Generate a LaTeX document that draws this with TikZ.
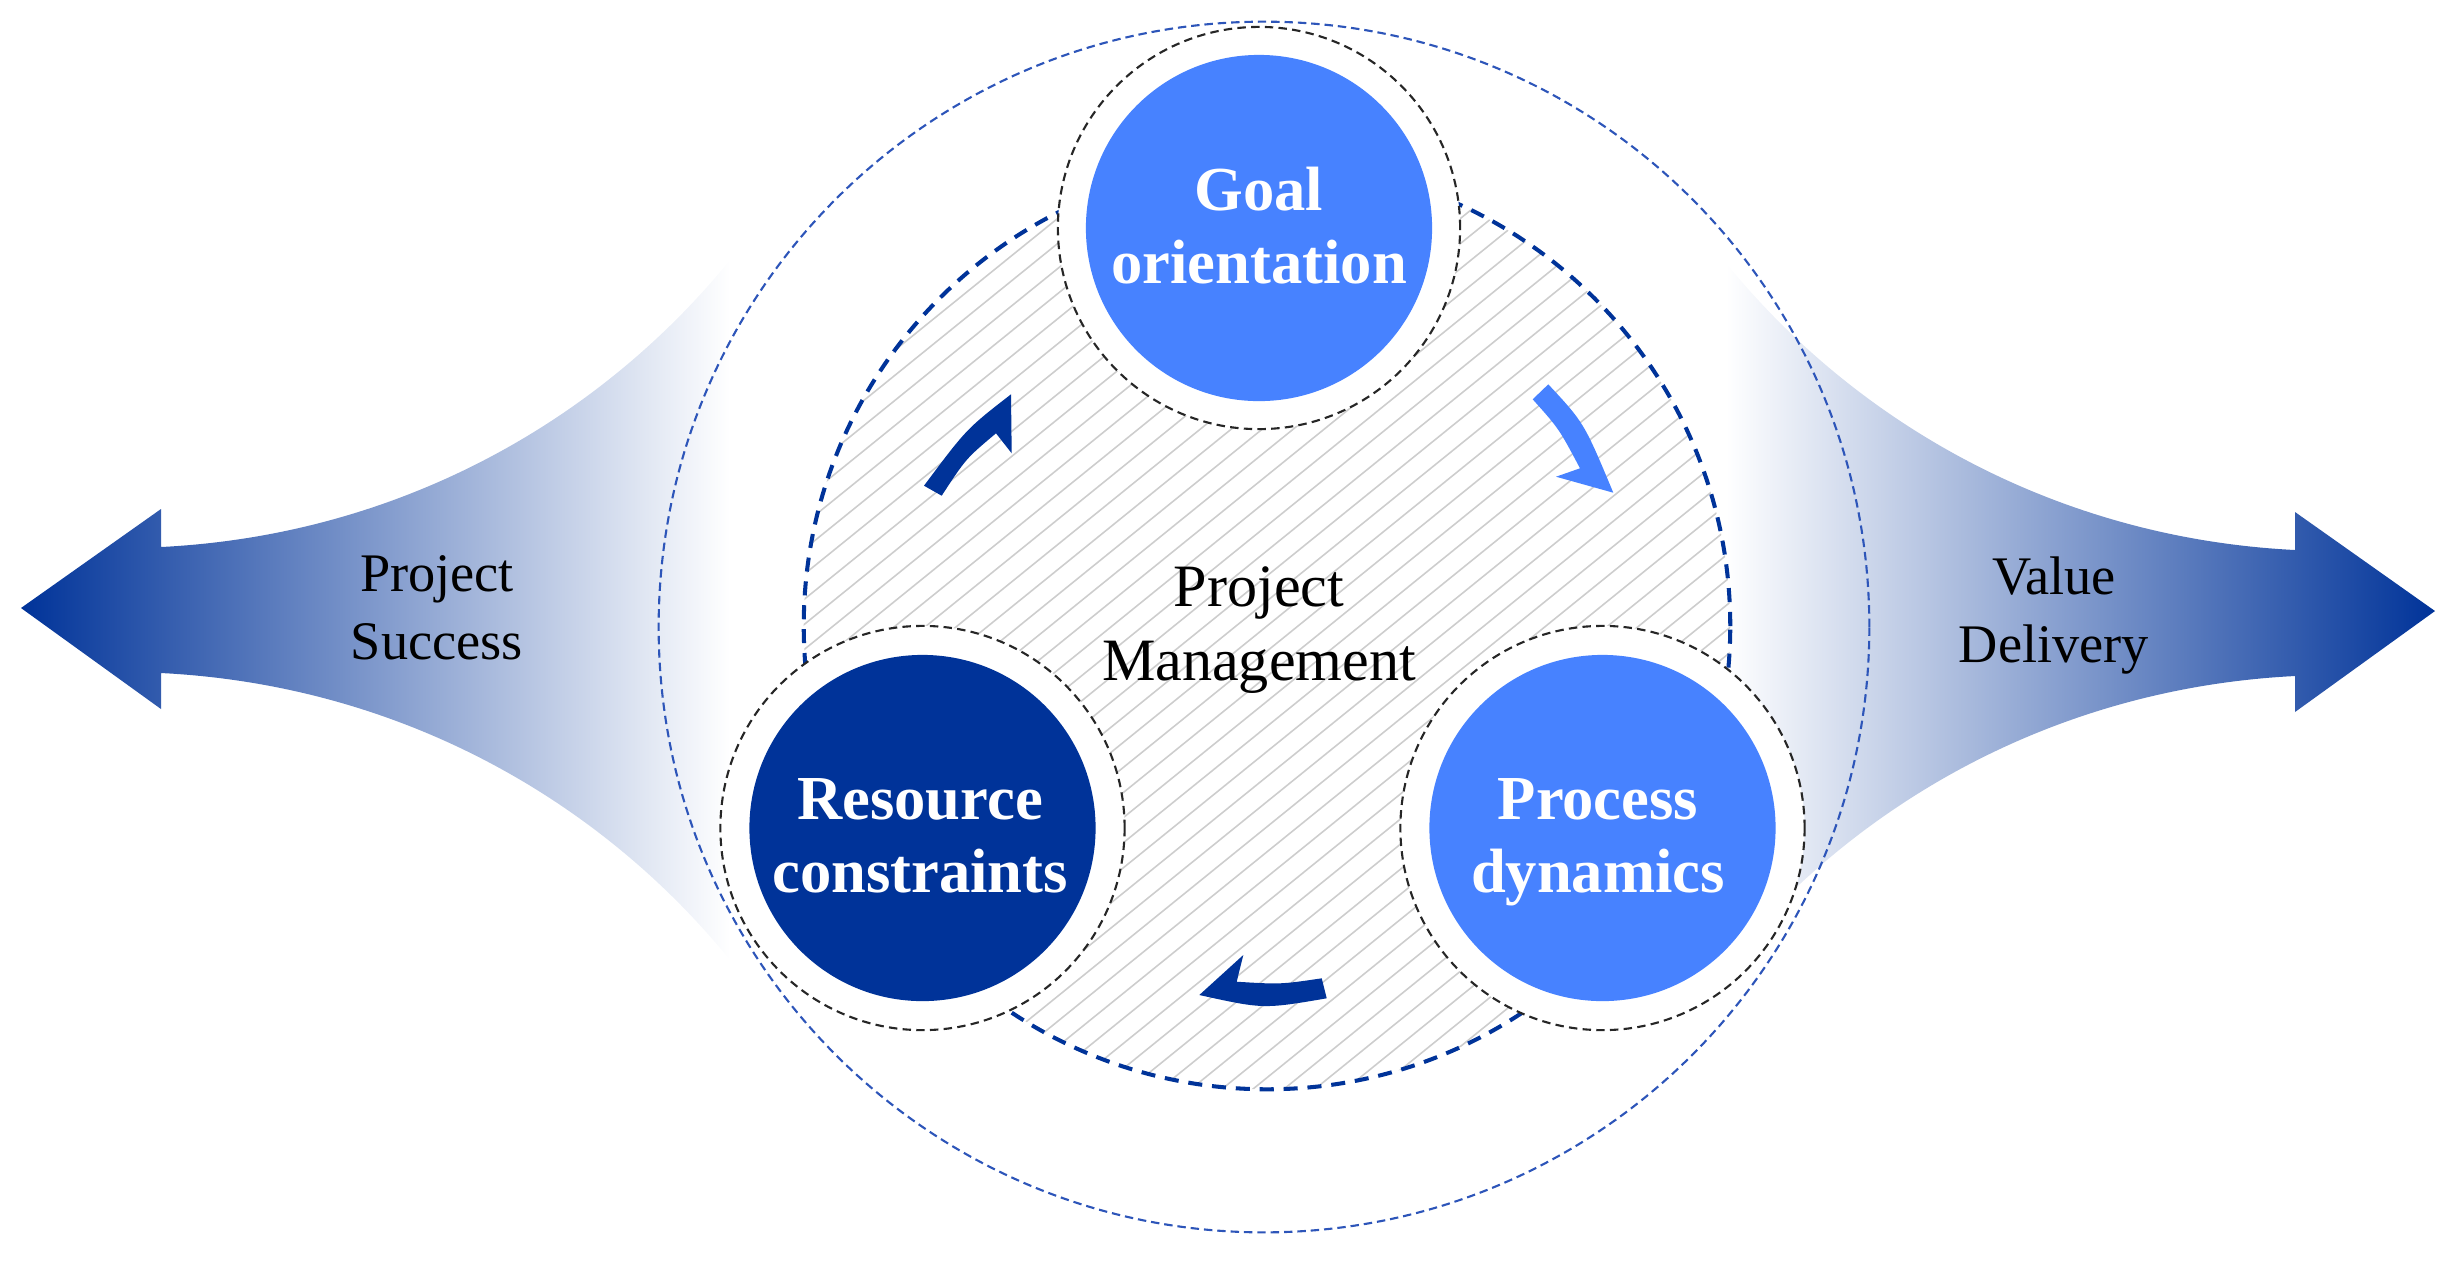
\documentclass[tikz,border=0pt]{standalone}
\usepackage{fontspec}
\setmainfont{Liberation Serif}
\usetikzlibrary{calc}
\definecolor{navy}{RGB}{0,51,153}
\definecolor{lblue}{RGB}{71,130,255}
\definecolor{midblue}{RGB}{45,85,185}
\definecolor{hatchgray}{RGB}{205,205,205}
\begin{document}
\begin{tikzpicture}[x=0.01cm,y=-0.01cm,
  ring/.style={draw=black!85, line width=0.6pt, dash pattern=on 2.4pt off 1.5pt, fill=white},
  disc/.style={circle, inner sep=0pt, minimum size=3.46cm},
  boldlbl/.style={anchor=base, inner sep=0pt, text=white, font=\fontsize{17.8}{20.86}\selectfont\bfseries},
  sidelbl/.style={anchor=base, inner sep=0pt, text=black, font=\fontsize{15.45}{19.35}\selectfont},
  midlbl/.style={anchor=base, inner sep=0pt, text=black, font=\fontsize{17.1}{20.86}\selectfont},
  hatchline/.style={draw=hatchgray, line width=0.45pt},
  cyclearrow/.style={draw=none}
]
\useasboundingbox (0,0) rectangle (2459,1262);

% wings
\shade[left color=navy, right color=white] (21,608) -- (161,509) -- (161,547)
  .. controls (400,535) and (600,420) .. (730,260) -- (730,960)
  .. controls (600,800) and (400,685) .. (161,673) -- (161,709) -- cycle;
\shade[left color=white, right color=navy] (2435,611) -- (2295,512) -- (2295,550)
  .. controls (2056,538) and (1856,423) .. (1726,263) -- (1726,963)
  .. controls (1856,803) and (2056,688) .. (2295,676) -- (2295,712) -- cycle;

% hatching inside inner circle
\coordinate (ic) at (1267,626);
\begin{scope}
  \clip (ic) circle [radius=4.63cm];
  \begin{scope}[shift={(ic)}, rotate=39]
    \foreach \k in {-26,...,26} \draw[hatchline] (-520,\k*19.5) -- (520,\k*19.5);
  \end{scope}
\end{scope}
\draw[navy, line width=1.15pt, dash pattern=on 4pt off 2.8pt] (ic) circle [radius=4.63cm];

% node rings and discs
\draw[ring] (1259,228) circle [radius=2.01cm];
\draw[ring] (922.5,828) circle [radius=2.02cm];
\draw[ring] (1602.5,828) circle [radius=2.02cm];
\node[disc, fill=lblue] (goal) at (1259,228) {};
\node[disc, fill=navy] (res) at (922.5,828) {};
\node[disc, fill=lblue] (proc) at (1602.5,828) {};

\node[boldlbl] (goalt) at (1259,210) {\begin{tabular}[t]{@{}c@{}}Goal\\orientation\end{tabular}};
\node[boldlbl] (rest) at (920,819) {\begin{tabular}[t]{@{}c@{}}Resource\\constraints\end{tabular}};
\node[boldlbl] (proct) at (1598,819) {\begin{tabular}[t]{@{}c@{}}Process\\dynamics\end{tabular}};

\node[midlbl] (pm) at (1259,606.7) {\begin{tabular}[t]{@{}c@{}}Project\\Management\end{tabular}};
\node[sidelbl] (ps) at (437,591) {\begin{tabular}[t]{@{}c@{}}Project\\Success\end{tabular}};
\node[sidelbl] (vd) at (2054,594) {\begin{tabular}[t]{@{}c@{}}Value\\Delivery\end{tabular}};

% cycle arrows
\fill[navy] (924,485.7) -- (941.7,495.7) .. controls (966.0,458.5) .. (996,433.3)
  -- (1011.7,453.3) -- (1011,394.3) .. controls (966.4,428.9) .. (924,485.7) -- cycle;
\fill[lblue] (1548.3,384.3) -- (1532.7,399.3) .. controls (1559.0,428.7) .. (1580,468.3)
  -- (1556,476.7) -- (1613.3,492.7) .. controls (1584.1,422.8) .. (1548.3,384.3) -- cycle;
\fill[navy] (1326.7,998.3) -- (1321.7,978.3) .. controls (1280.3,984.4) .. (1236.7,981.7)
  -- (1243.3,955) -- (1199.3,995) .. controls (1263.4,1009.1) .. (1326.7,998.3) -- cycle;

% outer dashed circle
\draw[midblue, line width=0.6pt, dash pattern=on 2.4pt off 1.4pt] (1264,627) circle [radius=6.05cm];
\end{tikzpicture}
\end{document}
